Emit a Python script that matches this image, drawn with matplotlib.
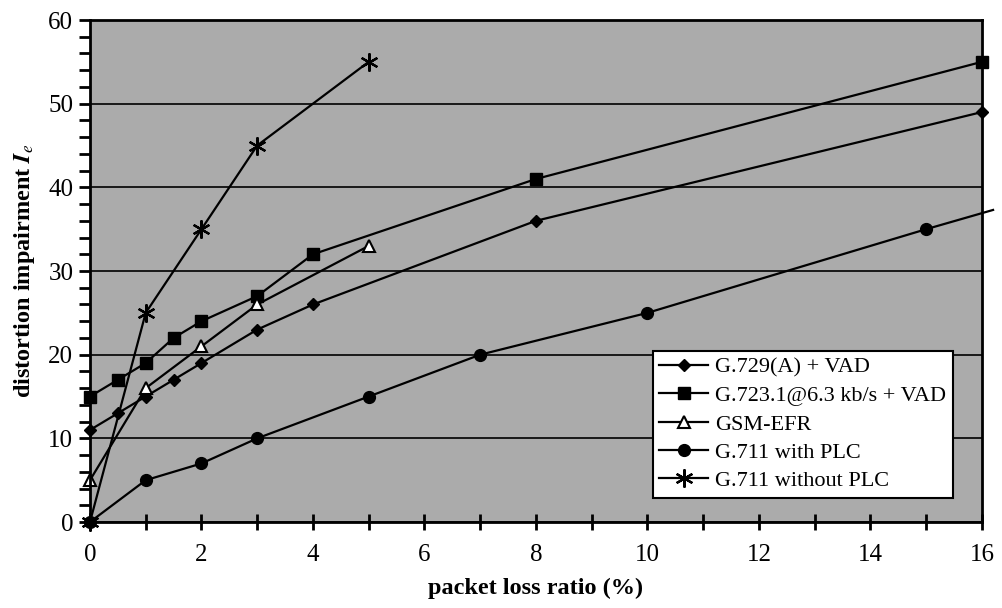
import matplotlib
matplotlib.use('Agg')
import matplotlib.pyplot as plt
from matplotlib.ticker import MultipleLocator

plt.rcParams['font.family'] = ['Liberation Serif', 'DejaVu Serif']
plt.rcParams['mathtext.fontset'] = 'stix'

# series
x_g729 = [0, 0.5, 1, 1.5, 2, 3, 4, 8, 16]
y_g729 = [11, 13, 15, 17, 19, 23, 26, 36, 49]
x_g723 = [0, 0.5, 1, 1.5, 2, 3, 4, 8, 16]
y_g723 = [15, 17, 19, 22, 24, 27, 32, 41, 55]
x_gsm = [0, 1, 2, 3, 5]
y_gsm = [5, 16, 21, 26, 33]
# last point is where the line leaves the plot (no marker there)
x_plc = [0, 1, 2, 3, 5, 7, 10, 15, 16.2]
y_plc = [0, 5, 7, 10, 15, 20, 25, 35, 37.3]
x_noplc = [0, 1, 2, 3, 5]
y_noplc = [0, 25, 35, 45, 55]

labels = ['G.729(A) + VAD', 'G.723.1@6.3 kb/s + VAD', 'GSM-EFR',
          'G.711 with PLC', 'G.711 without PLC']

fig = plt.figure(figsize=(10.03, 6.08), dpi=100)
ax = fig.add_axes([0.0897, 0.1414, 0.8893, 0.8257])
ax.set_facecolor('#ababab')

lw = 1.6
ax.plot(x_g729, y_g729, color='black', lw=lw, marker='D', ms=6.5,
        clip_on=False, label=labels[0])
ax.plot(x_g723, y_g723, color='black', lw=lw, marker='s', ms=8.5,
        clip_on=False, label=labels[1])
ax.plot(x_gsm, y_gsm, color='black', lw=lw, marker='^', ms=9, mfc='white',
        mec='black', mew=1.5, clip_on=False, label=labels[2])
ax.plot(x_plc, y_plc, color='black', lw=lw, marker='o', ms=8.5,
        markevery=list(range(len(x_plc) - 1)), clip_on=False, label=labels[3])
ax.plot(x_noplc, y_noplc, color='black', lw=lw, marker=(6, 2, 0), ms=13,
        mew=1.6, clip_on=False, label=labels[4])

ax.set_xlim(0, 16)
ax.set_ylim(0, 60)
ax.xaxis.set_major_locator(MultipleLocator(2))
ax.xaxis.set_minor_locator(MultipleLocator(1))
ax.yaxis.set_major_locator(MultipleLocator(10))
ax.yaxis.set_minor_locator(MultipleLocator(2))
ax.tick_params(axis='x', which='both', direction='inout', length=12, width=2, pad=10,
               labelsize=18)
ax.tick_params(axis='y', which='both', direction='out', length=8, width=2, pad=4,
               labelsize=18)
ax.grid(axis='y', which='major', color='black', lw=1.2)
ax.set_axisbelow(True)
for s in ax.spines.values():
    s.set_linewidth(2)

ax.set_xlabel('packet loss ratio (%)', fontsize=17.5, fontweight='bold', labelpad=8)
ax.set_ylabel(r'distortion impairment $\mathbfit{I}_{e}$', fontsize=17.5,
              fontweight='bold', labelpad=8)

leg = ax.legend(loc='lower right', bbox_to_anchor=(0.967, 0.048), fontsize=16,
                frameon=True, fancybox=False, framealpha=1, edgecolor='black',
                handlelength=2.2, handletextpad=0.3, labelspacing=0.35,
                borderpad=0.3, borderaxespad=0)
leg.get_frame().set_linewidth(1.5)
leg.set_zorder(5)

fig.savefig('out.png', dpi=100)
